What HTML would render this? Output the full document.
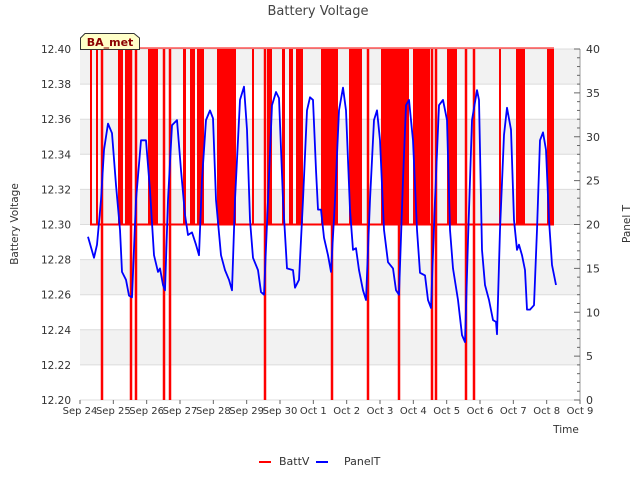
<!DOCTYPE html>
<html><head><meta charset="utf-8"><style>
body{margin:0;background:#fff;font-family:"Liberation Sans","DejaVu Sans",sans-serif}
svg text{font-family:"DejaVu Sans","Liberation Sans",sans-serif}
</style></head><body>
<svg id="c" width="640" height="480" xmlns="http://www.w3.org/2000/svg"></svg>
<script>
const xTickLabels=["Sep 24","Sep 25","Sep 26","Sep 27","Sep 28","Sep 29","Sep 30","Oct 1","Oct 2","Oct 3","Oct 4","Oct 5","Oct 6","Oct 7","Oct 8","Oct 9"];
const yLeftTicks=[12.20,12.22,12.24,12.26,12.28,12.30,12.32,12.34,12.36,12.38,12.40];
const yRightTicks=[0,5,10,15,20,25,30,35,40];
const panelDays=[0.24,0.42,0.51,0.63,0.72,0.84,0.96,1.08,1.20,1.26,1.38,1.47,1.56,1.68,1.83,1.98,2.10,2.22,2.34,2.40,2.49,2.55,2.64,2.76,2.91,3.03,3.15,3.24,3.36,3.48,3.57,3.66,3.78,3.90,3.99,4.08,4.23,4.35,4.47,4.56,4.65,4.80,4.92,5.01,5.10,5.19,5.34,5.43,5.52,5.64,5.76,5.88,5.97,6.09,6.21,6.39,6.45,6.57,6.69,6.81,6.90,6.99,7.08,7.14,7.23,7.32,7.44,7.53,7.65,7.77,7.89,7.98,8.10,8.19,8.28,8.37,8.49,8.58,8.70,8.82,8.91,9.00,9.12,9.24,9.39,9.48,9.57,9.69,9.78,9.87,9.99,10.11,10.20,10.35,10.44,10.53,10.65,10.77,10.89,11.01,11.10,11.19,11.34,11.46,11.55,11.64,11.76,11.91,11.97,12.06,12.15,12.27,12.39,12.48,12.51,12.60,12.72,12.81,12.93,13.02,13.11,13.17,13.26,13.35,13.41,13.50,13.62,13.71,13.80,13.89,13.98,14.07,14.16,14.28];
const panelT=[18.6,16.2,17.7,22.8,28.5,31.5,30.4,24.5,19.4,14.6,13.7,11.9,11.7,22.8,29.6,29.6,23.9,16.5,14.6,15.0,13.1,12.5,22.8,31.3,31.9,26.2,21.1,18.8,19.1,17.7,16.5,25.1,31.9,33.0,32.1,22.8,16.5,14.8,13.7,12.5,22.8,34.2,35.7,30.8,20.5,16.2,14.8,12.3,12.0,22.8,33.6,35.1,34.4,22.8,15.0,14.8,12.8,13.7,22.8,33.0,34.5,34.2,26.2,21.7,21.7,18.5,16.5,14.6,22.8,33.0,35.6,33.0,21.7,17.1,17.3,14.8,12.5,11.4,22.8,31.9,33.0,29.6,19.4,15.7,15.0,12.5,12.0,25.1,33.6,34.2,29.6,19.4,14.5,14.2,11.4,10.5,22.8,33.6,34.2,31.9,19.4,15.0,11.4,7.4,6.6,18.2,31.9,35.3,34.2,17.1,13.1,11.4,9.1,8.9,7.5,19.4,30.2,33.3,30.8,20.5,17.1,17.7,16.5,14.8,10.3,10.3,10.8,19.4,29.6,30.5,28.5,20.5,15.4,13.1];
const battHighStart=[0.30,0.48,1.14,1.35,2.04,3.09,3.30,3.51,4.11,5.16,5.61,6.06,6.27,6.48,7.23,8.07,9.03,9.99,11.01,12.57,13.08,14.01];
const battHighEnd=[0.36,0.54,1.29,1.50,2.34,3.18,3.45,3.72,4.68,5.22,5.76,6.15,6.39,6.69,7.74,8.46,9.87,10.50,11.31,12.63,13.35,14.22];
const battDropDays=[0.66,1.53,1.68,2.52,2.70,5.55,7.56,8.64,9.57,10.56,10.68,11.58,11.82];
const battBase=12.30, battHigh=12.40, battLow=12.20, battStart=0.30, battEnd=14.22;

const NS="http://www.w3.org/2000/svg", svg=document.getElementById('c');
const X0=80,X1=580,Y0=400,Y1=49;
const xs=d=>X0+(X1-X0)*d/15;
const yl=v=>Y0-(Y0-Y1)*(v-12.2)/0.2;
const yr=v=>Y0-(Y0-Y1)*v/40;
function mk(t,a,p){const e=document.createElementNS(NS,t);for(const k in a)e.setAttribute(k,a[k]);(p||svg).appendChild(e);return e;}

for(let i=0;i<10;i++){
  const b=mk('rect',{x:X0,y:yl(12.4-0.02*i),width:X1-X0,height:yl(12.2)-yl(12.22),fill:i%2==0?'#f2f2f2':'#ffffff'});
  
  
}
yLeftTicks.forEach(v=>{
  const g=mk('line',{x1:X0,x2:X1,y1:yl(v),y2:yl(v),stroke:'#dcdcdc','stroke-width':1});
  
  
  const t=mk('text',{x:71,y:yl(v)+4,'text-anchor':'end','font-size':10.5,fill:'#333'});
  t.textContent=v.toFixed(2);
  
  
});
mk('line',{x1:X1,x2:X1,y1:Y1,y2:Y0,stroke:'#999'});
for(let v=0;v<=40;v++){mk('line',{x1:X1,x2:X1-(v%5==0?6:3),y1:yr(v),y2:yr(v),stroke:'#666'});}
yRightTicks.forEach(v=>{
  const t=mk('text',{x:586,y:yr(v)+4,'font-size':11,fill:'#333'});
  t.textContent=v;
  
  
});
xTickLabels.forEach((s,i)=>{
  mk('line',{x1:xs(i),x2:xs(i),y1:Y0,y2:Y0+4,stroke:'#666'});
  const t=mk('text',{x:xs(i),y:414,'text-anchor':'middle','font-size':10,fill:'#333'});
  t.textContent=s;
  
  
});
const red=mk('g',{});


mk('line',{x1:xs(battStart),x2:xs(battEnd),y1:yl(battBase),y2:yl(battBase),stroke:'#f00','stroke-width':2},red);
mk('line',{x1:xs(battStart),x2:xs(battEnd),y1:yl(battHigh)-1,y2:yl(battHigh)-1,stroke:'#f00','stroke-width':1},red);
battHighStart.forEach((s,i)=>{
  mk('rect',{x:xs(s),y:yl(battHigh),width:Math.max(2,xs(battHighEnd[i])-xs(s)),height:yl(battBase)-yl(battHigh),fill:'#f00'},red);
});
battDropDays.forEach(d=>{
  mk('line',{x1:xs(d),x2:xs(d),y1:yl(battHigh),y2:yl(battLow),stroke:'#f00','stroke-width':2.5},red);
});
const pts=panelDays.map((d,i)=>xs(d).toFixed(1)+','+yr(panelT[i]).toFixed(1)).join(' ');
const pl=mk('polyline',{points:pts,fill:'none',stroke:'#00f','stroke-width':1.8,'stroke-linejoin':'round'});


const tt=mk('text',{x:318,y:15,'text-anchor':'middle','font-size':13,fill:'#444'});tt.textContent='Battery Voltage';


const yt=mk('text',{x:18,y:224,'text-anchor':'middle','font-size':10.5,fill:'#333',transform:'rotate(-90 18 224)'});yt.textContent='Battery Voltage';


const rt=mk('text',{x:630,y:224,'text-anchor':'middle','font-size':10.5,fill:'#333',transform:'rotate(-90 630 224)'});rt.textContent='Panel T';


const xt=mk('text',{x:566,y:433,'text-anchor':'middle','font-size':10.5,fill:'#333'});xt.textContent='Time';


const tag=mk('g',{});


mk('path',{d:'M80.5,49.5 V38 L85,33.5 H134 L139.5,38 V49.5 Z',fill:'#ffffc8',stroke:'#333'},tag);
const tg=mk('text',{x:110,y:46,'text-anchor':'middle','font-size':11,'font-weight':'bold',fill:'#8b0000'},tag);tg.textContent='BA_met';
const l1=mk('g',{});


mk('line',{x1:259,x2:271,y1:462,y2:462,stroke:'#f00','stroke-width':2},l1);
const lt1=mk('text',{x:279,y:465,'font-size':11,fill:'#333'},l1);lt1.textContent='BattV';
const l2=mk('g',{});


mk('line',{x1:316,x2:328,y1:462,y2:462,stroke:'#00f','stroke-width':2},l2);
const lt2=mk('text',{x:344,y:465,'font-size':11,fill:'#333'},l2);lt2.textContent='PanelT';
</script>
</body></html>
